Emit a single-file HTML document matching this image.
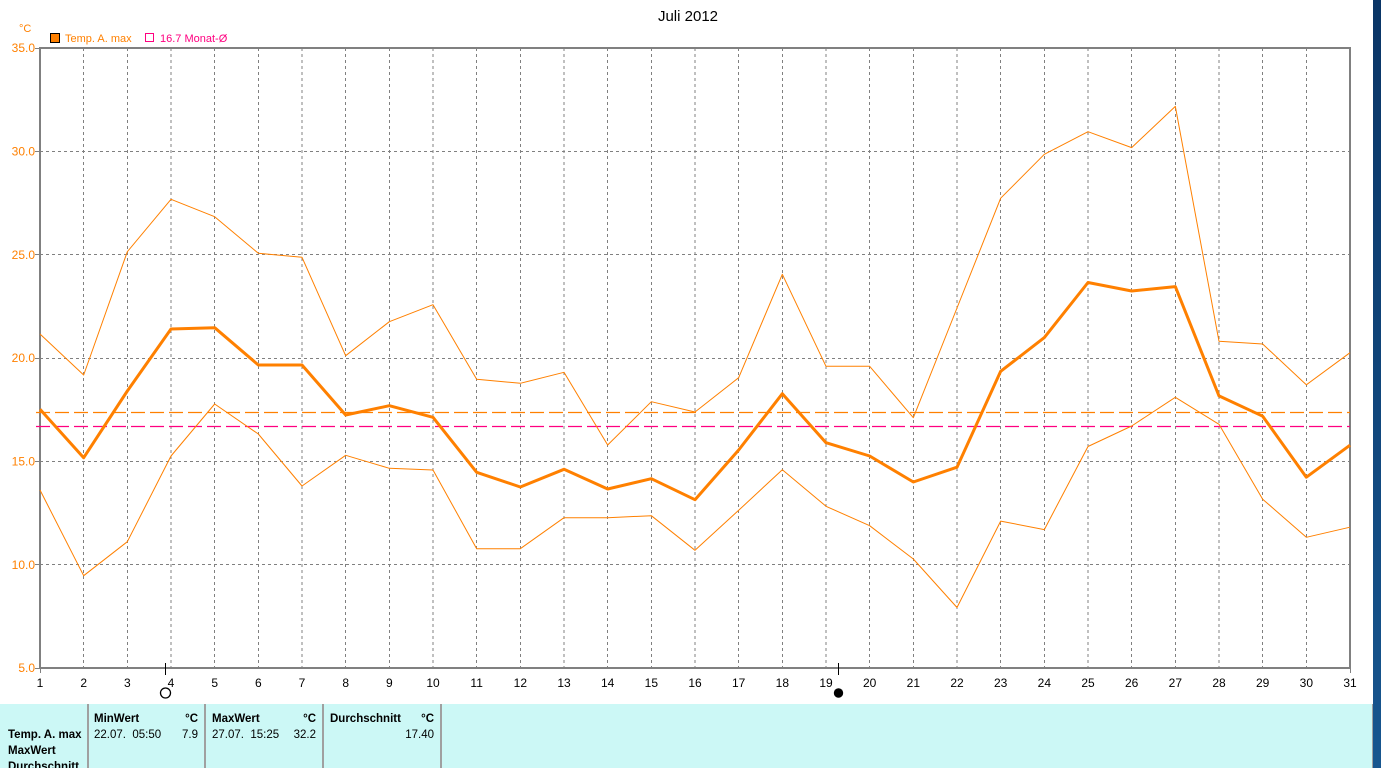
<!DOCTYPE html>
<html><head><meta charset="utf-8"><style>
html,body{margin:0;padding:0;background:#fff;}
body{width:1381px;height:768px;overflow:hidden;position:relative;font-family:"Liberation Sans",sans-serif;}
svg{position:absolute;left:0;top:0;}
</style></head><body>
<svg width="1381" height="768" viewBox="0 0 1381 768" xmlns="http://www.w3.org/2000/svg">
<defs>
<linearGradient id="bl" x1="0" y1="0" x2="0" y2="1">
<stop offset="0" stop-color="#0a3566"/><stop offset="1" stop-color="#17568f"/>
</linearGradient>
</defs>
<rect x="0" y="0" width="1381" height="768" fill="#fff"/>
<!-- title -->
<text x="688" y="21" font-size="15" text-anchor="middle" fill="#000">Juli 2012</text>
<!-- legend -->
<text x="19" y="32" font-size="11" fill="#ff8000">°C</text>
<rect x="50.5" y="33.5" width="9" height="9" fill="#ff8000" stroke="#000" stroke-width="1"/>
<text x="65" y="42" font-size="11" fill="#ff8000">Temp. A. max</text>
<rect x="145.5" y="33.5" width="8" height="8" fill="none" stroke="#ff0080" stroke-width="1"/>
<text x="160" y="42" font-size="11" fill="#ff0080">16.7 Monat-Ø</text>
<!-- grid -->
<g stroke="#808080" stroke-width="1" stroke-dasharray="3,3" shape-rendering="crispEdges">
<line x1="40" y1="151.5" x2="1350" y2="151.5"/>
<line x1="40" y1="254.5" x2="1350" y2="254.5"/>
<line x1="40" y1="358.5" x2="1350" y2="358.5"/>
<line x1="40" y1="461.5" x2="1350" y2="461.5"/>
<line x1="40" y1="564.5" x2="1350" y2="564.5"/>
<line x1="83.67" y1="48" x2="83.67" y2="668"/>
<line x1="127.33" y1="48" x2="127.33" y2="668"/>
<line x1="171" y1="48" x2="171" y2="668"/>
<line x1="214.67" y1="48" x2="214.67" y2="668"/>
<line x1="258.33" y1="48" x2="258.33" y2="668"/>
<line x1="302" y1="48" x2="302" y2="668"/>
<line x1="345.67" y1="48" x2="345.67" y2="668"/>
<line x1="389.33" y1="48" x2="389.33" y2="668"/>
<line x1="433" y1="48" x2="433" y2="668"/>
<line x1="476.67" y1="48" x2="476.67" y2="668"/>
<line x1="520.33" y1="48" x2="520.33" y2="668"/>
<line x1="564" y1="48" x2="564" y2="668"/>
<line x1="607.67" y1="48" x2="607.67" y2="668"/>
<line x1="651.33" y1="48" x2="651.33" y2="668"/>
<line x1="695" y1="48" x2="695" y2="668"/>
<line x1="738.67" y1="48" x2="738.67" y2="668"/>
<line x1="782.33" y1="48" x2="782.33" y2="668"/>
<line x1="826" y1="48" x2="826" y2="668"/>
<line x1="869.67" y1="48" x2="869.67" y2="668"/>
<line x1="913.33" y1="48" x2="913.33" y2="668"/>
<line x1="957" y1="48" x2="957" y2="668"/>
<line x1="1000.67" y1="48" x2="1000.67" y2="668"/>
<line x1="1044.33" y1="48" x2="1044.33" y2="668"/>
<line x1="1088" y1="48" x2="1088" y2="668"/>
<line x1="1131.67" y1="48" x2="1131.67" y2="668"/>
<line x1="1175.33" y1="48" x2="1175.33" y2="668"/>
<line x1="1219" y1="48" x2="1219" y2="668"/>
<line x1="1262.67" y1="48" x2="1262.67" y2="668"/>
<line x1="1306.33" y1="48" x2="1306.33" y2="668"/>
</g>
<!-- frame -->
<g stroke="#808080" stroke-width="2" fill="none" shape-rendering="crispEdges">
<polyline points="40,669 40,48 1350,48 1350,669"/>
<line x1="40" y1="668" x2="1351" y2="668"/>
</g>
<!-- axis ticks -->
<g stroke="#808080" stroke-width="1" shape-rendering="crispEdges">
<line x1="35" y1="48.5" x2="40" y2="48.5"/>
<line x1="35" y1="151.5" x2="40" y2="151.5"/>
<line x1="35" y1="254.5" x2="40" y2="254.5"/>
<line x1="35" y1="358.5" x2="40" y2="358.5"/>
<line x1="35" y1="461.5" x2="40" y2="461.5"/>
<line x1="35" y1="564.5" x2="40" y2="564.5"/>
<line x1="35" y1="668.5" x2="40" y2="668.5"/>
<line x1="1350.5" y1="668" x2="1350.5" y2="673"/>
<line x1="40.5" y1="668" x2="40.5" y2="673"/>
</g>
<!-- y labels -->
<g font-size="12" fill="#ff8000" text-anchor="end">
<text x="35" y="52">35.0</text>
<text x="35" y="155.5">30.0</text>
<text x="35" y="259">25.0</text>
<text x="35" y="362">20.0</text>
<text x="35" y="465.5">15.0</text>
<text x="35" y="569">10.0</text>
<text x="35" y="672">5.0</text>
</g>
<!-- x labels -->
<g font-size="12" fill="#000" text-anchor="middle">
<text x="40" y="687">1</text><text x="83.67" y="687">2</text><text x="127.33" y="687">3</text><text x="171" y="687">4</text><text x="214.67" y="687">5</text><text x="258.33" y="687">6</text><text x="302" y="687">7</text><text x="345.67" y="687">8</text><text x="389.33" y="687">9</text><text x="433" y="687">10</text><text x="476.67" y="687">11</text><text x="520.33" y="687">12</text><text x="564" y="687">13</text><text x="607.67" y="687">14</text><text x="651.33" y="687">15</text><text x="695" y="687">16</text><text x="738.67" y="687">17</text><text x="782.33" y="687">18</text><text x="826" y="687">19</text><text x="869.67" y="687">20</text><text x="913.33" y="687">21</text><text x="957" y="687">22</text><text x="1000.67" y="687">23</text><text x="1044.33" y="687">24</text><text x="1088" y="687">25</text><text x="1131.67" y="687">26</text><text x="1175.33" y="687">27</text><text x="1219" y="687">28</text><text x="1262.67" y="687">29</text><text x="1306.33" y="687">30</text><text x="1350" y="687">31</text>
</g>
<!-- moon markers -->
<line x1="165.5" y1="663" x2="165.5" y2="675" stroke="#000" stroke-width="1"/>
<circle cx="165.5" cy="693" r="5" fill="none" stroke="#000" stroke-width="1.3"/>
<line x1="838.5" y1="663" x2="838.5" y2="675" stroke="#000" stroke-width="1"/>
<circle cx="838.5" cy="693" r="4.7" fill="#000"/>
<!-- average lines -->
<line x1="36" y1="412.5" x2="1350" y2="412.5" stroke="#ff8000" stroke-width="1.2" stroke-dasharray="14,5"/>
<line x1="36" y1="426.5" x2="1350" y2="426.5" stroke="#ff0080" stroke-width="1.2" stroke-dasharray="14,5"/>
<!-- series -->
<g fill="none" stroke="#ff8000" stroke-linejoin="round">
<polyline stroke-width="1" points="40,334 83.67,375 127.33,251.7 171,199.3 214.67,216.7 258.33,253.3 302,257.3 345.67,355.7 389.33,321.7 433,304.7 476.67,379.3 520.33,383.3 564,372.3 607.67,445 651.33,401.7 695,412 738.67,377.7 782.33,274.3 826,366.3 869.67,366.3 913.33,417.7 957,308 1000.67,198.2 1044.33,154.3 1088,131.7 1131.67,147.6 1175.33,106.4 1219,341.3 1262.67,344 1306.33,384.8 1350,352.7"/>
<polyline stroke-width="3" points="40,409.3 83.67,457.7 127.33,391 171,329 214.67,327.7 258.33,365 302,365 345.67,415 389.33,405.7 433,417.3 476.67,472.3 520.33,487 564,469.3 607.67,489 651.33,478.7 695,499.7 738.67,450 782.33,393.7 826,442.7 869.67,456 913.33,482 957,467.2 1000.67,371.3 1044.33,337.6 1088,282.5 1131.67,291 1175.33,286.6 1219,395.9 1262.67,416.2 1306.33,477.2 1350,445.2"/>
<polyline stroke-width="1" points="40,490 83.67,575.7 127.33,541.7 171,456 214.67,404 258.33,434 302,486 345.67,455.3 389.33,468.3 433,470 476.67,548.7 520.33,548.7 564,517.7 607.67,517.7 651.33,515.7 695,550.3 738.67,510.3 782.33,469.7 826,506.3 869.67,525.7 913.33,559 957,607.5 1000.67,521.1 1044.33,529.6 1088,446.5 1131.67,426 1175.33,397.3 1219,424.3 1262.67,499.2 1306.33,537.3 1350,527.2"/>
</g>
<!-- table -->
<rect x="0" y="704" width="1373" height="64" fill="#ccf8f6"/>
<g fill="#a0a0a0">
<rect x="87" y="704" width="2" height="64"/>
<rect x="204" y="704" width="2" height="64"/>
<rect x="322" y="704" width="2" height="64"/>
<rect x="440" y="704" width="2" height="64"/>
<rect x="1372" y="704" width="1" height="64"/>
</g>
<g font-size="11.5" fill="#000">
<text x="94" y="722" font-weight="bold">MinWert</text>
<text x="198" y="722" font-weight="bold" text-anchor="end">°C</text>
<text x="212" y="722" font-weight="bold">MaxWert</text>
<text x="316" y="722" font-weight="bold" text-anchor="end">°C</text>
<text x="330" y="722" font-weight="bold">Durchschnitt</text>
<text x="434" y="722" font-weight="bold" text-anchor="end">°C</text>
<text x="8" y="738" font-weight="bold">Temp. A. max</text>
<text x="94" y="738" xml:space="preserve">22.07.  05:50</text>
<text x="198" y="738" text-anchor="end">7.9</text>
<text x="212" y="738" xml:space="preserve">27.07.  15:25</text>
<text x="316" y="738" text-anchor="end">32.2</text>
<text x="434" y="738" text-anchor="end">17.40</text>
<text x="8" y="754" font-weight="bold">MaxWert</text>
<text x="8" y="770" font-weight="bold">Durchschnitt</text>
</g>
<!-- right blue strip -->
<rect x="1373" y="0" width="8" height="768" fill="url(#bl)"/>
</svg>
</body></html>
